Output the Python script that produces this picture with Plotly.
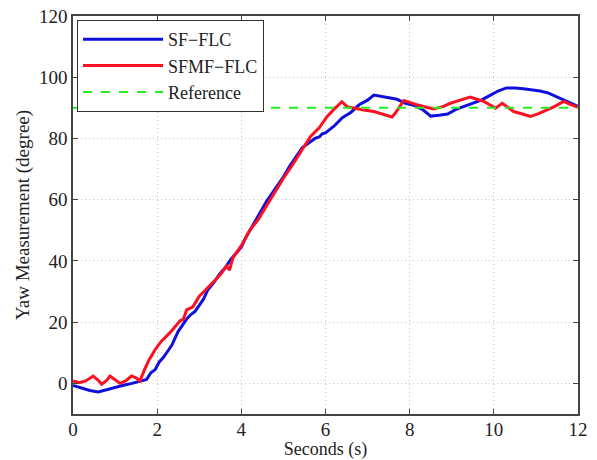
import plotly.graph_objects as go

# ---- data ----
blue_t = [0, 0.2, 0.4, 0.6, 0.8, 1.0, 1.2, 1.4, 1.6, 1.75, 1.85, 1.95, 2.05, 2.15, 2.25, 2.35,
          2.5, 2.6, 2.7, 2.8, 2.9, 3.0, 3.1, 3.2, 3.35, 3.5, 3.6, 3.75, 3.85, 4.0, 4.1, 4.2,
          4.35, 4.5, 4.6, 4.75, 4.9, 5.0, 5.15, 5.3, 5.45, 5.6, 5.75, 5.85, 5.92, 6.0, 6.2,
          6.4, 6.6, 6.8, 7.0, 7.15, 7.3, 7.5, 7.7, 7.9, 8.1, 8.3, 8.5, 8.7, 8.9, 9.1, 9.3,
          9.5, 9.7, 9.9, 10.1, 10.3, 10.5, 10.7, 10.9, 11.1, 11.3, 11.5, 11.7, 11.85, 12.0]
blue_y = [-0.7, -1.5, -2.3, -2.8, -2.0, -1.2, -0.6, 0.0, 0.8, 1.3, 3.5, 4.5, 7.0, 8.5, 10.5, 12.5,
          17, 19, 21, 22.5, 23.5, 25.5, 27.5, 30.5, 33, 36, 37.5, 40.5, 42, 44.5, 47.5, 50,
          53.5, 57, 59.5, 62.5, 65.5, 67.5, 71, 74, 77, 78.5, 80, 80.5, 81.5, 81.8, 84,
          86.8, 88.5, 91, 92.5, 94.2, 93.8, 93.2, 92.8, 91.5, 90.8, 89.5, 87.3, 87.6, 88, 89.5, 90.5,
          91.5, 92.5, 94, 95.5, 96.5, 96.5, 96.2, 95.8, 95.5, 94.8, 93.6, 92.3, 91.3, 90.5]

red_t = [0, 0.15, 0.3, 0.48, 0.6, 0.68, 0.8, 0.88, 1.0, 1.12, 1.25, 1.39, 1.5, 1.59, 1.7, 1.8,
         1.95, 2.1, 2.3, 2.46, 2.55, 2.62, 2.7, 2.85, 3.0, 3.15, 3.33, 3.5, 3.65, 3.72, 3.8, 4.0,
         4.2, 4.4, 4.6, 4.8, 5.0, 5.2, 5.4, 5.64, 5.85, 6.04, 6.2, 6.39, 6.51, 6.7, 6.9, 7.15,
         7.35, 7.58, 7.66, 7.86, 8.0, 8.17, 8.4, 8.57, 8.8, 8.97, 9.2, 9.44, 9.6, 9.76, 9.9,
         10.04, 10.2, 10.35, 10.47, 10.7, 10.87, 11.05, 11.26, 11.45, 11.66, 11.8, 12.0]
red_y = [0.8, 0.2, 0.8, 2.4, 1.0, -0.3, 1.0, 2.4, 1.2, 0.0, 0.8, 2.4, 1.8, 0.8, 4.5, 7.5,
         11, 13.8, 16.5, 19.2, 20.5, 20.9, 24, 25, 28.5, 30.5, 33, 35.5, 38.3, 37, 41, 45,
         50, 53.5, 58, 62.5, 67, 71, 75.5, 80.6, 83.5, 87.2, 89.5, 92, 90.4, 89.8, 89.3, 88.8,
         88, 87, 88.3, 92.4, 91.8, 91, 90.2, 89.6, 90.5, 91.5, 92.5, 93.5, 92.8, 92.1, 91,
         89.9, 91.5, 90, 88.8, 87.9, 87.2, 88, 89.3, 90.5, 92.1, 91.2, 90.2]

ref_t = [0, 12]
ref_y = [90, 90]

x_ticks = [0, 2, 4, 6, 8, 10, 12]
y_ticks = [0, 20, 40, 60, 80, 100, 120]

FONT = "Liberation Serif"
TXT = "#222222"

fig = go.Figure()
fig.add_trace(go.Scatter(x=blue_t, y=blue_y, mode="lines", name="SF\u2212FLC",
                         line=dict(color="#1010dd", width=3)))
fig.add_trace(go.Scatter(x=red_t, y=red_y, mode="lines", name="SFMF\u2212FLC",
                         line=dict(color="#ff1020", width=3)))
fig.add_trace(go.Scatter(x=ref_t, y=ref_y, mode="lines", name="Reference",
                         line=dict(color="#22ee22", width=2, dash="dash")))

axis_common = dict(
    showgrid=True, gridcolor="#c4c4c4", griddash="1px,3px", gridwidth=1,
    zeroline=False, showline=True, linecolor="#444444", linewidth=1.5, mirror="ticks",
    ticks="inside", ticklen=5, tickcolor="#444444", automargin=False,
    ticklabeloverflow="allow",
)

fig.update_xaxes(range=[0, 12], tickvals=x_ticks, ticklabelstandoff=-3,
                 tickfont=dict(family=FONT, size=19, color=TXT),
                 title=dict(text="Seconds (s)", font=dict(family=FONT, size=18, color=TXT), standoff=1),
                 **axis_common)
fig.update_yaxes(range=[-10, 120], tickvals=y_ticks,
                 tickfont=dict(family=FONT, size=19, color=TXT),
                 title=dict(text="Yaw Measurement (degree)", font=dict(family=FONT, size=19, color=TXT), standoff=4),
                 **axis_common)

# the page body has an 8px margin, so the figure is sized/margined to compensate
fig.update_layout(
    width=589, height=452,
    margin=dict(l=65, r=19, t=8, b=46),
    paper_bgcolor="white", plot_bgcolor="white",
    font=dict(family=FONT, size=19, color=TXT),
    showlegend=True,
    legend=dict(x=0.008, y=0.99, xanchor="left", yanchor="top",
                bgcolor="white", bordercolor="#333333", borderwidth=1,
                font=dict(family=FONT, size=18, color=TXT),
                itemwidth=80, tracegroupgap=0),
)

fig.write_html("out.html")
